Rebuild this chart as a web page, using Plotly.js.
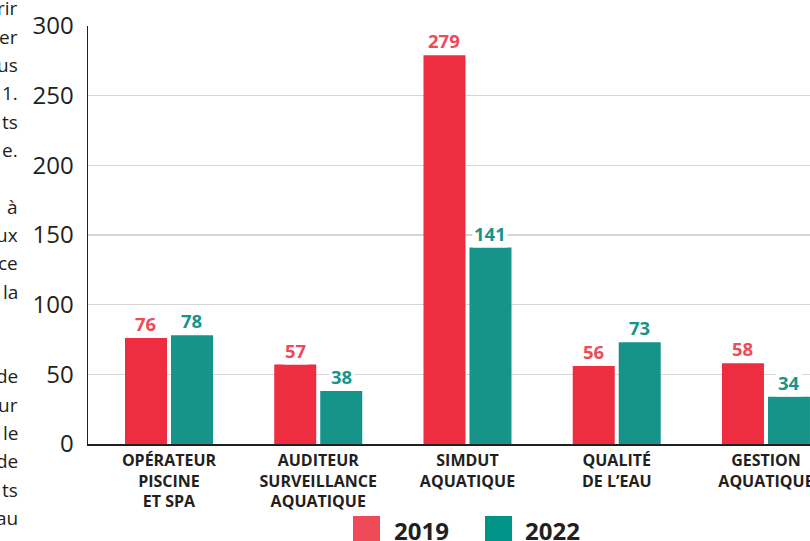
<!DOCTYPE html>
<html>
<head>
<meta charset="utf-8">
<script src="https://cdn.plot.ly/plotly-3.0.1.min.js"></script>
<style>
  html, body { margin: 0; padding: 0; background: #ffffff; }
  #chart { width: 810px; height: 541px; }
</style>
</head>
<body>
<div id="chart"></div>
<script>
// ---- Data ----
const categories = [
  "OPÉRATEUR<br>PISCINE<br>ET SPA",
  "AUDITEUR<br>SURVEILLANCE<br>AQUATIQUE",
  "SIMDUT<br>AQUATIQUE",
  "QUALITÉ<br>DE L’EAU",
  "GESTION<br>AQUATIQUE"
];
const values2019 = [76, 57, 279, 56, 58];
const values2022 = [78, 38, 141, 73, 34];
const seriesNames = ["2019", "2022"];
const yTickValues = [0, 50, 100, 150, 200, 250, 300];
const sideTextFragments = ["rir", "er", "us", "1.", "ts", "e.", "", "à", "ux", "ce", "la", "", "", "de", "ur", "le", "de", "ts", "au"];

// ---- Styles ----
const FONT = "'Open Sans', 'Noto Sans', sans-serif";
const DARK = "#231f20";
const barColors = ["#ee2d40", "#17948a"];
const labelColors = ["#ef4a57", "#17948a"];
const swatchColors = ["#ef4a57", "#009488"];

const W = 810, H = 541;
const M = { l: 88, r: 0, t: 26, b: 97 };
const plotW = W - M.l - M.r;
const plotH = H - M.t - M.b;
const px2paperX = px => (px - M.l) / plotW;
const px2paperY = py => (H - M.b - py) / plotH;

const seriesValues = [values2019, values2022];

const traces = seriesValues.map((vals, s) => ({
  type: "bar",
  name: seriesNames[s],
  x: categories,
  y: vals,
  marker: { color: barColors[s], line: { width: 0 } },
  hoverinfo: "skip",
  textposition: "none"
}));

const annotations = [];
// value labels
seriesValues.forEach((vals, s) => {
  vals.forEach((v, i) => {
    annotations.push({
      x: i, y: v, xref: "x", yref: "y",
      xshift: s === 0 ? -23 : 23,
      yshift: 0,
      yanchor: "bottom",
      xanchor: "center",
      showarrow: false,
      text: String(v),
      bgcolor: "#ffffff",
      borderpad: 1,
      font: { family: FONT, size: 18.5, color: labelColors[s], weight: "bold" }
    });
  });
});

// legend
const shapes = [];
const swatchLeft = [353, 485];
const legendTextLeft = [392, 523];
seriesNames.forEach((name, s) => {
  shapes.push({
    type: "rect", xref: "paper", yref: "paper",
    x0: px2paperX(swatchLeft[s]), x1: px2paperX(swatchLeft[s] + 27),
    y0: px2paperY(516), y1: px2paperY(543),
    fillcolor: swatchColors[s], line: { width: 0 }
  });
  annotations.push({
    xref: "paper", yref: "paper",
    x: px2paperX(legendTextLeft[s]), y: px2paperY(530),
    xanchor: "left", yanchor: "middle",
    showarrow: false, text: name,
    font: { family: FONT, size: 24, color: DARK, weight: "bold" }
  });
});

// cut-off side text from adjoining column
sideTextFragments.forEach((t, i) => {
  if (!t) return;
  annotations.push({
    xref: "paper", yref: "paper",
    x: px2paperX(20), y: px2paperY(8.5 + i * 28.3),
    xanchor: "right", yanchor: "middle",
    showarrow: false, text: t,
    font: { family: FONT, size: 19, color: DARK }
  });
});

const layout = {
  width: W, height: H,
  margin: M,
  paper_bgcolor: "#ffffff",
  plot_bgcolor: "#ffffff",
  showlegend: false,
  barmode: "group",
  bargap: 0.3836,
  bargroupgap: 0.087,
  font: { family: FONT, color: DARK },
  xaxis: {
    type: "category",
    range: [-0.5427, 4.295],
    showline: true, linecolor: DARK, linewidth: 1.5,
    ticks: "", showgrid: false, zeroline: false,
    tickfont: { family: FONT, size: 16, color: DARK, weight: "bold" },
    ticklabelstandoff: 1,
    fixedrange: true
  },
  yaxis: {
    range: [0, 300],
    tickvals: yTickValues,
    ticktext: yTickValues.map(String),
    showline: true, linecolor: DARK, linewidth: 1.5,
    showgrid: true, gridcolor: "#d6d6d6", gridwidth: 1.5,
    zeroline: false, ticks: "",
    tickfont: { family: FONT, size: 24, color: DARK },
    ticklabelstandoff: 8,
    fixedrange: true
  },
  shapes: shapes,
  annotations: annotations
};

Plotly.newPlot("chart", traces, layout, { displayModeBar: false, staticPlot: true });
</script>
</body>
</html>
